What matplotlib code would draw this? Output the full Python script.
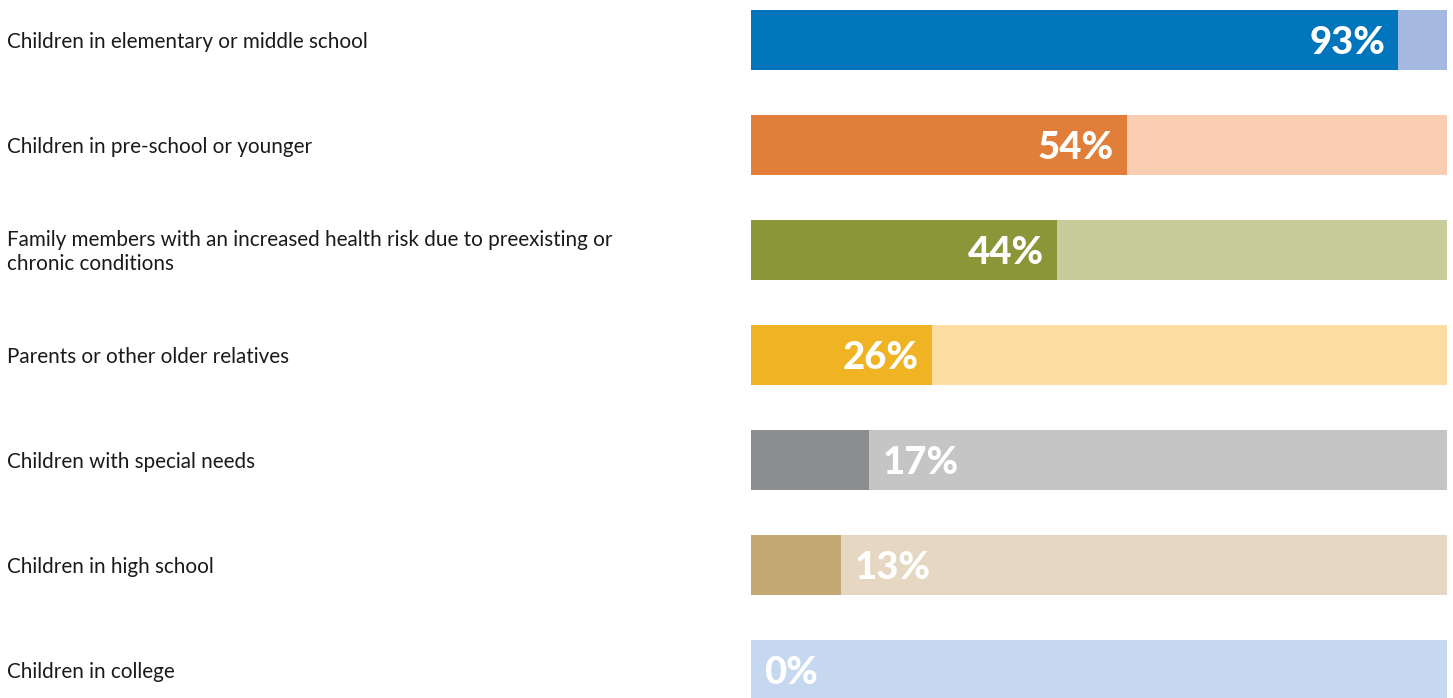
import numpy as np
import matplotlib.pyplot as plt
import matplotlib.transforms as mtransforms

# datos
categorias = [
    "Children in elementary or middle school",
    "Children in pre-school or younger",
    "Family members with an increased health risk due to preexisting or\nchronic conditions",
    "Parents or other older relatives",
    "Children with special needs",
    "Children in high school",
    "Children in college",
]
valores = [93, 54, 44, 26, 17, 13, 0]

colores_fuertes = ["#0075BC", "#E07E3A", "#8A9638", "#EFB323", "#8B8E8F", "#C5A974", "#0075BC"]
colores_claros = ["#A5B8DF", "#F8CDB2", "#C8CC9A", "#FEDDA3", "#C4C5C4", "#E5D7C1", "#C5D8F0"]

W, H = 1453, 698
fig = plt.figure(figsize=(W / 100, H / 100), dpi=100)

# ejes solo en la zona de las barras
x0, x1 = 751, 1447
ax = fig.add_axes([x0 / W, 0, (x1 - x0) / W, 1])

paso = 105
arriba = 40  # centro de la primera barra en px
y = np.arange(len(valores))
ax.set_xlim(0, 100)
ax.set_ylim((H - arriba) / paso, -arriba / paso)
alto = 60 / paso

ax.barh(y, [100] * len(valores), height=alto, color=colores_claros, linewidth=0)
ax.barh(y, valores, height=alto, color=colores_fuertes, linewidth=0)

pad = 1.9  # en unidades de %
for i, v in enumerate(valores):
    texto = f"{v}%"
    if v >= 25:
        ax.text(v - pad, i, texto, ha="right", va="center_baseline", color="white",
                fontsize=27.5, fontweight="black", family="Lato")
    else:
        ax.text(v + pad, i, texto, ha="left", va="center_baseline", color="white",
                fontsize=27.5, fontweight="black", family="Lato")

trans = mtransforms.blended_transform_factory(fig.transFigure, ax.transData)
for i, c in enumerate(categorias):
    ax.text(7 / W, i + 0.02, c, transform=trans, ha="left", va="center", color="#1a1a1a",
            fontsize=14.9, family="Lato", linespacing=1.25, clip_on=False)

ax.axis("off")
fig.savefig("out.png", dpi=100)
